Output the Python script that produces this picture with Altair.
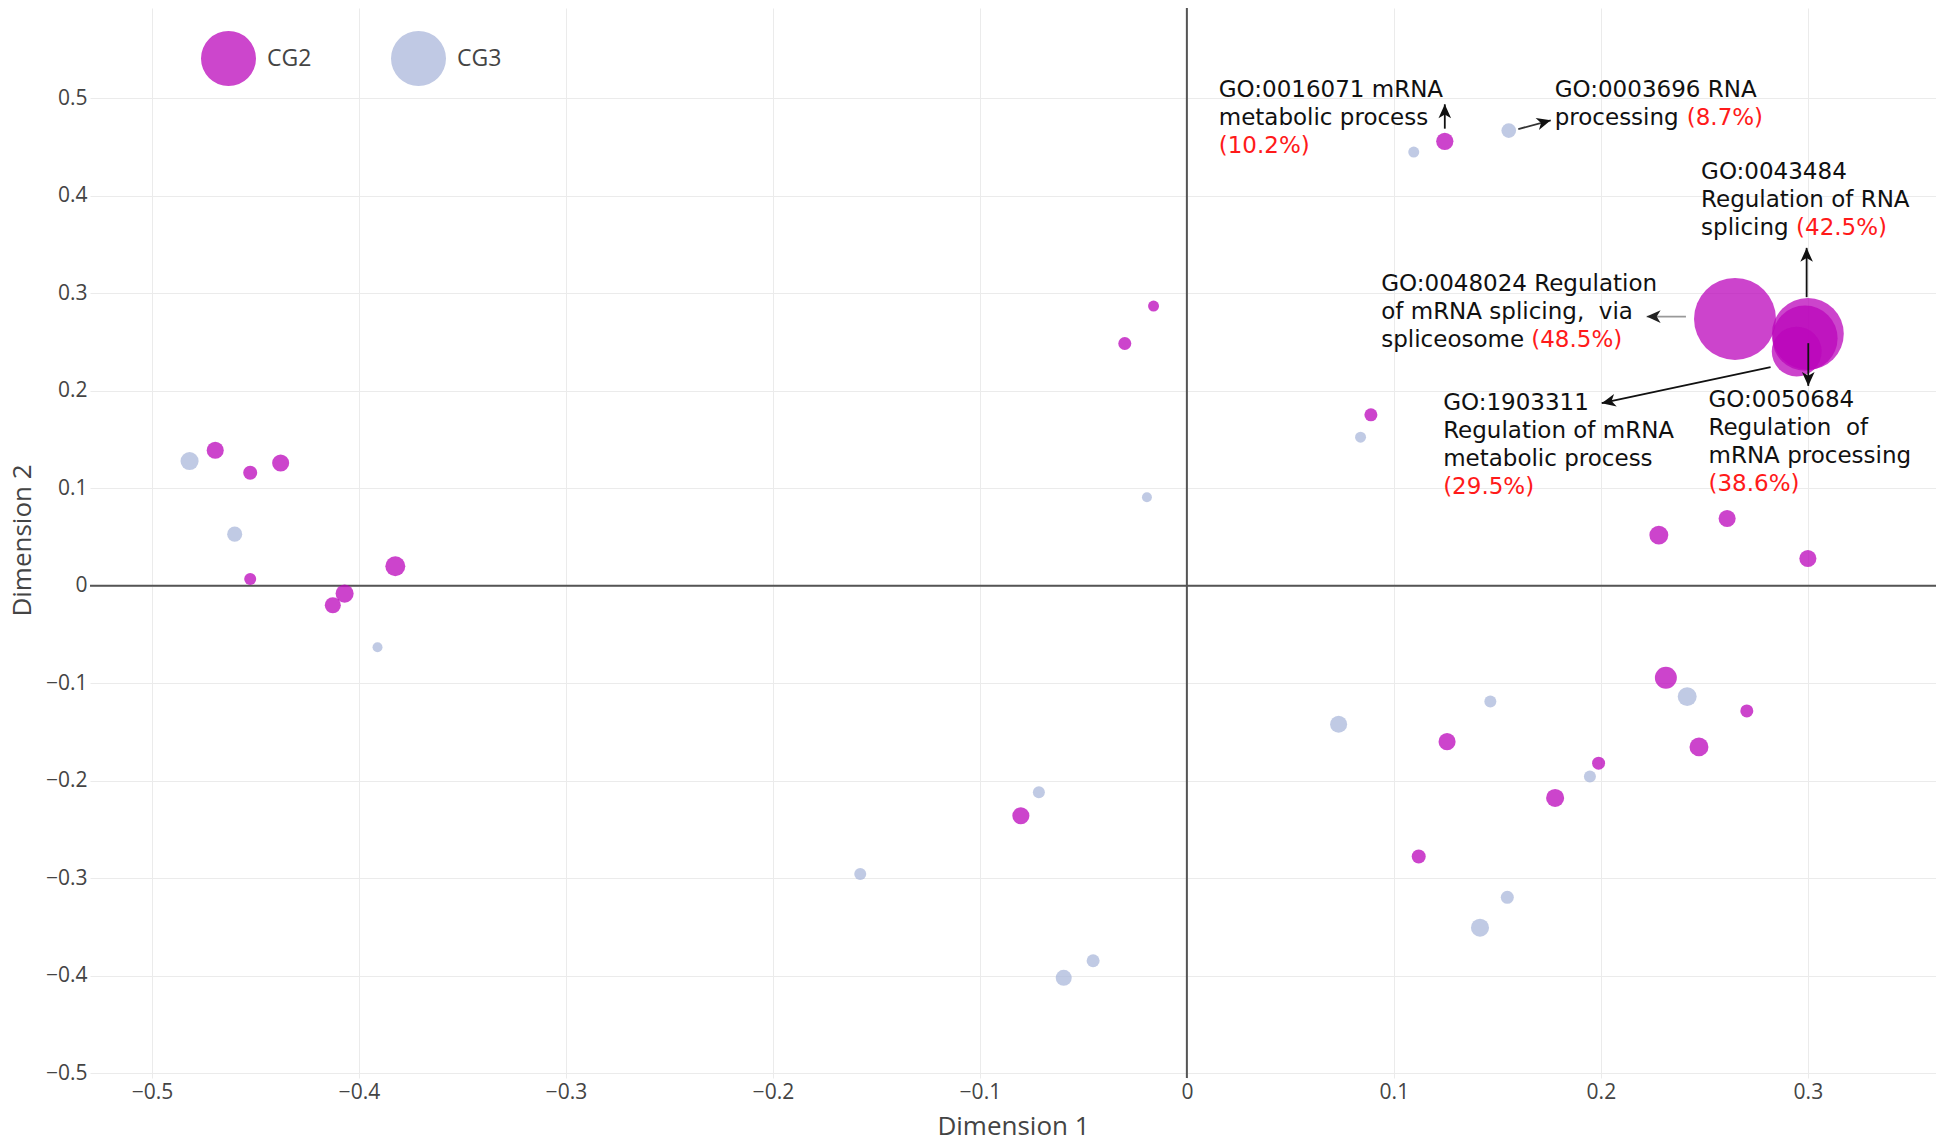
import math
import altair as alt

groups = ["CG2", "CG3"]

cg2_x = [-0.4694, -0.4525, -0.4378, -0.4525, -0.4069, -0.4126, -0.3824, -0.0161, -0.0300, 0.0889,
         -0.0802, 0.1246, 0.2648, 0.3000, 0.2986, 0.2946, 0.2280, 0.2610, 0.3000, 0.2314,
         0.2705, 0.1257, 0.2474, 0.1989, 0.1779, 0.1120]
cg2_y = [0.139, 0.116, 0.126, 0.007, -0.008, -0.020, 0.020, 0.287, 0.2486, 0.1754,
         -0.2359, 0.456, 0.2738, 0.2585, 0.254, 0.2403, 0.052, 0.069, 0.028, -0.0943,
         -0.1284, -0.1599, -0.1653, -0.182, -0.2177, -0.2778]
cg2_pct = [10.1, 8.3, 10.1, 7.1, 10.7, 9.5, 11.8, 6.5, 7.7, 7.7,
           10.1, 10.2, 48.5, 42.5, 38.6, 29.5, 11.2, 10.1, 10.1, 13.0,
           7.7, 10.1, 11.2, 7.7, 10.7, 8.3]

cg3_x = [-0.4818, -0.4600, -0.3910, -0.0193, 0.0839, 0.1096, 0.1555, 0.2417, 0.1466, 0.0733,
         0.1947, 0.1548, 0.1416, -0.0715, -0.1578, -0.0453, -0.0595]
cg3_y = [0.128, 0.053, -0.063, 0.0908, 0.1525, 0.445, 0.467, -0.1137, -0.1188, -0.1421,
         -0.1957, -0.3196, -0.3508, -0.2119, -0.2958, -0.3847, -0.4022]
cg3_pct = [10.7, 8.9, 5.9, 5.9, 6.5, 6.5, 8.7, 11.2, 7.1, 10.1,
           7.1, 7.7, 10.7, 7.1, 7.1, 7.7, 9.5]

x_ticks = [-0.5, -0.4, -0.3, -0.2, -0.1, 0.0, 0.1, 0.2, 0.3]
y_ticks = [-0.5, -0.4, -0.3, -0.2, -0.1, 0.0, 0.1, 0.2, 0.3, 0.4, 0.5]

ann_lines = [
    ["GO:0016071 mRNA", "metabolic process"],
    ["GO:0003696 RNA", "processing"],
    ["GO:0043484", "Regulation of RNA", "splicing"],
    ["GO:0048024 Regulation", "of mRNA splicing,\u00a0 via", "spliceosome"],
    ["GO:1903311", "Regulation of mRNA", "metabolic process"],
    ["GO:0050684", "Regulation\u00a0 of", "mRNA processing"],
]
ann_pct = ["(10.2%)", "(8.7%)", "(42.5%)", "(48.5%)", "(29.5%)", "(38.6%)"]
ann_pct_line = [2, 1, 2, 2, 3, 3]
ann_pct_dx = [0, 132, 95, 150, 0, 0]
ann_x = [0.0154, 0.1777, 0.2484, 0.0939, 0.1238, 0.2520]
ann_y = [0.5197, 0.5197, 0.4358, 0.3213, 0.1993, 0.2018]

arr_tx = [0.1246, 0.1601, 0.2994, 0.2411, 0.2820, 0.3002]
arr_ty = [0.469, 0.4685, 0.2961, 0.2762, 0.2243, 0.2489]
arr_hx = [0.1246, 0.1758, 0.2994, 0.2221, 0.2004, 0.3002]
arr_hy = [0.494, 0.4776, 0.3467, 0.2762, 0.1874, 0.2051]
arr_line_color = ["#111111", "#333333", "#111111", "#999999", "#111111", "#111111"]
arr_head_color = ["#111111", "#111111", "#111111", "#222222", "#111111", "#111111"]

W, H = 1846, 1070
XMIN, XMAX = -0.5299, 0.3619
YMIN, YMAX = -0.505, 0.5928
SX = W / (XMAX - XMIN)
SY = H / (YMAX - YMIN)
FS = 23
LH = 28

pts = []
for g, xs, ys, ps in (("CG2", cg2_x, cg2_y, cg2_pct), ("CG3", cg3_x, cg3_y, cg3_pct)):
    for a, b, c in zip(xs, ys, ps):
        pts.append({"x": a, "y": b, "pct": c, "group": g})

black_txt, red_txt, arrows = [], [], []
for i in range(len(ann_lines)):
    black_txt.append({"x": ann_x[i], "y": ann_y[i], "t": ann_lines[i]})
    red_txt.append({"x": ann_x[i] + ann_pct_dx[i] / SX, "y": ann_y[i] - ann_pct_line[i] * LH / SY,
                    "t": ann_pct[i]})
    ang = math.degrees(math.atan2(-(arr_hy[i] - arr_ty[i]) * SY, (arr_hx[i] - arr_tx[i]) * SX)) % 360
    arrows.append({"x": arr_tx[i], "y": arr_ty[i], "x2": arr_hx[i], "y2": arr_hy[i],
                   "hx": arr_hx[i], "hy": arr_hy[i], "ang": ang,
                   "lc": arr_line_color[i], "hc": arr_head_color[i]})

xscale = alt.Scale(domain=[XMIN, XMAX], nice=False, zero=False)
yscale = alt.Scale(domain=[YMIN, YMAX], nice=False, zero=False)
label_expr = "format(datum.value, '.1~f')"
xaxis = alt.Axis(values=x_ticks, labelExpr=label_expr, grid=True, gridColor="#ebebeb", gridWidth=1,
                 domain=False, ticks=False, tickSize=0, labelPadding=3,
                 labelFont="Open Sans", labelFontSize=21, labelColor="#444444",
                 titleFont="Open Sans", titleFontSize=26, titleFontWeight="normal", titleColor="#444444",
                 titleY=56, titleBaseline="alphabetic")
yaxis = alt.Axis(values=y_ticks, labelExpr=label_expr, grid=True, gridColor="#ebebeb", gridWidth=1,
                 domain=False, ticks=False, tickSize=0, labelPadding=3,
                 labelFont="Open Sans", labelFontSize=21, labelColor="#444444",
                 titleFont="Open Sans", titleFontSize=26, titleFontWeight="normal", titleColor="#444444",
                 titleX=-60, titleY=H / 2 - 3, titleAngle=270, titleAlign="center", titleBaseline="alphabetic")


def X(f):
    return alt.X(f, type="quantitative", scale=xscale, axis=xaxis, title="Dimension 1")


def Y(f):
    return alt.Y(f, type="quantitative", scale=yscale, axis=yaxis, title="Dimension 2")


zero_v = alt.Chart(alt.Data(values=[{"x": 0.0}])).mark_rule(color="#555555", strokeWidth=2).encode(x=X("x"))
zero_h = alt.Chart(alt.Data(values=[{"y": 0.0}])).mark_rule(color="#555555", strokeWidth=2).encode(y=Y("y"))

size_enc = alt.Size("pct:Q", scale=alt.Scale(type="pow", exponent=2, domain=[0, 50], range=[0, 7140]),
                    legend=None)

points = alt.Chart(alt.Data(values=pts)).mark_circle(opacity=0.75).encode(
    x=X("x"),
    y=Y("y"),
    size=size_enc,
    color=alt.Color("group:N", scale=alt.Scale(domain=groups, range=["#bb06bb", "#abb8db"]), legend=None),
    order=alt.Order("pct:Q", sort="descending"),
)

legend_layer = alt.Chart(alt.Data(values=pts)).transform_filter("false").mark_circle(opacity=1).encode(
    x=X("x"),
    y=Y("y"),
    color=alt.Color("group:N", scale=alt.Scale(domain=groups, range=["#cc46cc", "#c0c9e4"]),
                    legend=alt.Legend(orient="none", legendX=111, legendY=23, direction="horizontal",
                                      title=None, symbolSize=3025, symbolType="circle",
                                      symbolOpacity=1, symbolStrokeWidth=0,
                                      labelFont="Open Sans", labelFontSize=23, labelColor="#444444",
                                      labelOffset=11, columnPadding=79, padding=0)),
)

arrow_lines = alt.Chart(alt.Data(values=arrows)).mark_rule(strokeWidth=1.8).encode(
    x=X("x"), y=Y("y"), x2="x2:Q", y2="y2:Q", color=alt.Color("lc:N", scale=None)
)
arrow_heads = alt.Chart(alt.Data(values=arrows)).mark_point(
    shape="M0,0 L-1,-0.45 L-0.72,0 L-1,0.45 Z", filled=True, size=784, opacity=1, strokeWidth=0
).encode(x=X("hx"), y=Y("hy"), angle=alt.Angle("ang:Q", scale=None), color=alt.Color("hc:N", scale=None))

txt_black = alt.Chart(alt.Data(values=black_txt)).mark_text(
    font="DejaVu Sans", fontSize=FS, lineHeight=LH, align="left", baseline="top", color="#111111"
).encode(x=X("x"), y=Y("y"), text="t:N")

txt_red = alt.Chart(alt.Data(values=red_txt)).mark_text(
    font="DejaVu Sans", fontSize=FS, lineHeight=LH, align="left", baseline="top", color="#ff1a1a"
).encode(x=X("x"), y=Y("y"), text="t:N")

chart = alt.layer(zero_v, zero_h, points, legend_layer, arrow_lines, arrow_heads, txt_black, txt_red).resolve_scale(
    color="independent"
).properties(
    width=W, height=H,
    autosize=alt.AutoSizeParams(type="none"),
    padding={"left": 82, "top": 0, "right": 0, "bottom": 64},
).configure(background="white").configure_view(stroke=None, strokeWidth=0, strokeOpacity=0)

chart.save("out.html", embed_options={"renderer": "svg", "actions": False})
